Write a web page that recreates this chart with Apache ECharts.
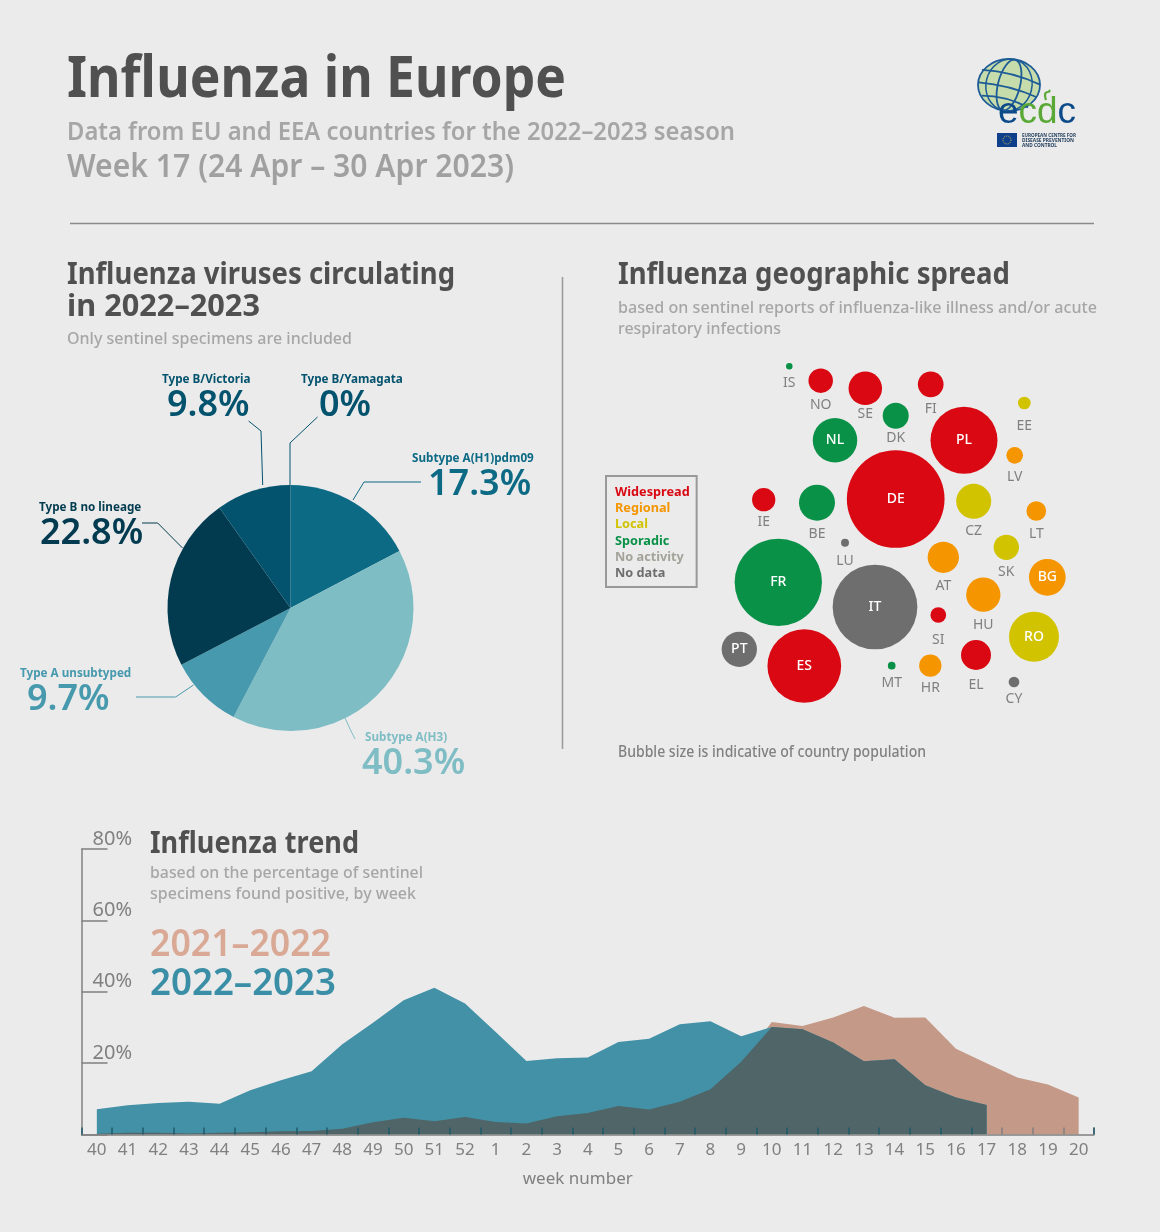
<!DOCTYPE html>
<html><head><meta charset="utf-8">
<style>html,body{margin:0;padding:0;background:#ebebeb}#c{width:1160px;height:1232px}</style>
<script src="https://cdn.jsdelivr.net/npm/echarts@6/dist/echarts.min.js"></script>
</head><body><div id="c"></div>
<script>
const FONT = '"Noto Sans"';
// --- Pie data
const virusNames = ['Subtype A(H1)pdm09','Subtype A(H3)','Type A unsubtyped','Type B no lineage','Type B/Victoria','Type B/Yamagata'];
const virusShares = [17.3,40.3,9.7,22.8,9.8,0];
const virusColors = ['#0d6a85','#7fbdc5','#4799ad','#023b50','#03536e','#03536e'];
// --- Trend data
const weekLabels = ['40','41','42','43','44','45','46','47','48','49','50','51','52','1','2','3','4','5','6','7','8','9','10','11','12','13','14','15','16','17','18','19','20'];
const season2122 = [0.2,0.5,0.5,0.3,0.5,0.6,0.9,1.0,1.6,3.4,4.7,3.7,4.9,3.5,3.1,5.1,6.0,8.0,7.0,9.2,12.7,20.4,31.5,30.4,32.8,36.0,32.7,32.8,24.0,20.0,16.0,14.0,10.4];
const season2223 = [7.1,8.2,8.8,9.2,8.6,12.4,15.2,17.7,25.3,31.3,37.6,41.1,36.7,28.7,20.6,21.4,21.6,25.9,26.8,30.9,31.7,27.5,30.1,29.5,25.8,20.5,21.1,13.8,10.4,8.3,null,null,null];
const overlapOutline = [0.2,0.5,0.5,0.3,0.5,0.6,0.9,1.0,1.6,3.4,4.7,3.7,4.9,3.5,3.1,5.1,6.0,8.0,7.0,9.2,12.7,20.4,30.1,29.5,25.8,20.5,21.1,13.8,10.4,8.3,null,null,null];
const yTicks = [0,20,40,60,80];
// --- Bubble data (layout coordinates of the packed bubble map)
const countryCodes = ['IS','NO','SE','FI','DK','EE','NL','PL','LV','DE','CZ','LT','IE','BE','SK','LU','AT','BG','FR','HU','IT','SI','RO','EL','PT','ES','MT','HR','CY'];
const bubbleX = [789.3,820.7,865.3,930.7,895.7,1024.3,835,964,1014.7,895.7,973.7,1036.3,763.7,817,1006.3,845,943.3,1047.3,778.3,983.3,875,938.3,1034,976,739.3,804.3,891.7,930.3,1014];
const bubbleY = [366.3,380.7,388.3,384.3,415.7,403,440.3,440.3,455.3,499,501.3,511,499.7,502.7,547.3,542.7,557.3,577.3,582.3,594.7,607,615,636.7,655,649.3,666,665.7,665.7,682];
const bubbleSizes = [6.5,24.5,33.5,25.7,26,12.7,44.5,67,16.7,97.7,35,19.7,23.3,36,25.3,8,31.3,36.7,87.3,34.3,84.7,15.7,50,30,35.3,73.7,7.7,22.3,10.7];
const countryStatus = ['Sporadic','Widespread','Widespread','Widespread','Sporadic','Local','Sporadic','Widespread','Regional','Widespread','Local','Regional','Widespread','Sporadic','Local','No data','Regional','Regional','Sporadic','Regional','No data','Widespread','Local','Widespread','No data','Widespread','Sporadic','Regional','No data'];
const insideLabelCodes = ['NL','PL','DE','BG','FR','IT','RO','PT','ES'];
const labelGaps = [6,5,2,5,2,10,0,0,6,0,5,6,4,6,5,7,6,0,0,6,0,10,0,8,0,0,6,4,5];
const statusNames = ['Widespread','Regional','Local','Sporadic','No activity','No data'];
const statusColors = ['#d90812','#f59500','#d1c300','#0a9148','#a3a39a','#6e6e6e'];

// --- Layout of the pie labels (left edge name, left edge value, name centre y, leader line)
const pieNameLeft = [412,365,20,39,162,301];
const pieValueLeft = [428,362,27,40,167,319];
const pieNameY = [459,738,674,508,380,380];
const pieLeaders = [
  [[353,500],[364,482],[421,482]],
  [[345,718],[350,729],[355,739]],
  [[193.5,685],[175.6,697],[136,697]],
  [[182.5,548],[157.7,523],[142,523]],
  [[262.7,485],[261,431],[248.6,421]],
  [[290,485],[290,443],[317.5,417]]
];

// --- Text blocks
const ctx = document.createElement('canvas').getContext('2d');
function T(text, x, y, w, size, weight, color){
  ctx.font = weight + ' ' + size + 'px ' + FONT;
  const m = ctx.measureText(text).width;
  return {type:'text', x:x, y:y, scaleX:w/m, z:50, silent:true,
    style:{text:text, fontFamily:FONT, fontSize:size, fontWeight:weight, fill:color, textAlign:'left', textVerticalAlign:'middle', verticalAlign:'middle'}};
}
const DARK='#505050', LIGHT='#a6a6a6';
const texts = [
  T('Influenza in Europe',67,81,499,57,700,DARK),
  T('Data from EU and EEA countries for the 2022–2023 season',67,133,668,25,600,LIGHT),
  T('Week 17 (24 Apr – 30 Apr 2023)',67,168,447,32,600,'#a0a0a0'),
  T('Influenza viruses circulating',67,275.5,388,31,700,DARK),
  T('in 2022–2023',67,307.5,193,31,700,DARK),
  T('Only sentinel specimens are included',67,339,285,17,500,LIGHT),
  T('Influenza geographic spread',618,275.5,392,31,700,DARK),
  T('based on sentinel reports of influenza-like illness and/or acute',618,308,479,17,500,LIGHT),
  T('respiratory infections',618,329,163,17,500,LIGHT),
  T('Bubble size is indicative of country population',618,752.5,308,15.5,500,'#808080'),
  T('Influenza trend',150,844.5,209,31,700,DARK),
  T('based on the percentage of sentinel',150,873,273,17,500,LIGHT),
  T('specimens found positive, by week',150,894,266,17,500,LIGHT),
  T('2021–2022',150,945,181,37,600,'#d9a995'),
  T('2022–2023',150,984,186,37,600,'#3a8ea5')
];
function L(x1,y1,x2,y2,c,w){return {type:'line',z:40,silent:true,shape:{x1,y1,x2,y2},style:{stroke:c,lineWidth:w}};}
const rules = [L(70,223.5,1094,223.5,'#8a8a8a',1.5), L(562.5,277,562.5,749,'#999999',1.5)];
// logo
const B='#1d5c96';
function E(cx,cy,rx,ry,rot,st){return {type:'ellipse',z:45,silent:true,x:1009,y:85,rotation:rot,shape:{cx:cx,cy:cy,rx:rx,ry:ry},style:st};}
function Q(x1,y1,cx,cy,x2,y2){return {type:'bezierCurve',z:46,silent:true,x:1009,y:85,rotation:-0.25,shape:{x1,y1,x2,y2,cpx1:cx,cpy1:cy},style:{stroke:B,lineWidth:1.8,fill:null}};}
const logo = [
  E(0,0,31,26,0,{fill:'#c7dcab',stroke:null}),
  E(0,0,31,26,0,{fill:null,stroke:B,lineWidth:1.8}),
  E(0,0,11,26,-0.25,{fill:null,stroke:B,lineWidth:1.8}),
  E(0,0,23,26,-0.25,{fill:null,stroke:B,lineWidth:1.5}),
  Q(-30,-8,0,-14,30,-8), Q(-30,5,0,0,30,5), Q(-24,17,0,11,24,17),
  {type:'text',z:47,silent:true,x:1037,y:113,style:{text:'{a|e}{b|cd}{a|c}',fontFamily:'"Liberation Sans"',fontSize:37,textAlign:'center',verticalAlign:'middle',rich:{a:{fill:'#0d4a8a',fontSize:37,fontFamily:'"Liberation Sans"'},b:{fill:'#5aa836',fontSize:37,fontFamily:'"Liberation Sans"'}}}},
  {type:'bezierCurve',z:47,silent:true,shape:{x1:1046,y1:100,x2:1049,y2:90,cpx1:1042,cpy1:88,cpx2:1052,cpy2:94},style:{stroke:'#5aa836',lineWidth:2.2,fill:null}},
  {type:'rect',z:47,silent:true,shape:{x:997,y:133,width:20,height:14},style:{fill:'#0d3f8a'}},
  {type:'circle',z:48,silent:true,shape:{cx:1007,cy:140,r:4},style:{fill:null,stroke:'#e8d34a',lineWidth:1,lineDash:[1,1.2]}},
  T('EUROPEAN CENTRE FOR',1022,135,54,6,700,'#25415f'),
  T('DISEASE PREVENTION',1022,140,52,6,700,'#25415f'),
  T('AND CONTROL',1022,145,35,6,700,'#25415f')
];

// --- Series
const pieData = virusNames.map((n,i)=>({
  name:n, value:virusShares[i],
  itemStyle:{color:virusColors[i]},
  labelLine:{lineStyle:{color:virusColors[i],width:1}},
  label:{
    formatter:'{n|'+n+'}\n{v|'+virusShares[i]+'%}',
    rich:{
      n:{fontFamily:FONT,fontSize:11.7,fontWeight:700,color:virusColors[i],lineHeight:16,align:'left',padding:[0,0,0,pieNameLeft[i]-Math.min(pieNameLeft[i],pieValueLeft[i])]},
      v:{fontFamily:FONT,fontSize:36,fontWeight:600,color:virusColors[i],lineHeight:36,align:'left',padding:[0,0,0,pieValueLeft[i]-Math.min(pieNameLeft[i],pieValueLeft[i])]}
    }
  }
}));
const bubbleSeries = statusNames.map((st,si)=>{
  const data=[];
  countryCodes.forEach((c,i)=>{
    if(countryStatus[i]!==st) return;
    const inside = insideLabelCodes.includes(c);
    data.push({name:c,value:[bubbleX[i],bubbleY[i]],symbolSize:bubbleSizes[i],
      label:{show:true,formatter:c,position:inside?'inside':'bottom',distance:labelGaps[i],
        color:inside?'#ffffff':'#808080',fontFamily:FONT,fontSize:14,fontWeight:inside?500:400}});
  });
  return {type:'scatter',name:st,xAxisIndex:2,yAxisIndex:1,data:data,itemStyle:{color:statusColors[si],opacity:1},silent:true,animation:false};
});
const area = (name,data,color,z)=>({type:'line',name,xAxisIndex:0,yAxisIndex:0,data,symbol:'none',showSymbol:false,
  lineStyle:{width:0},areaStyle:{color,opacity:1},z,silent:true,connectNulls:false,animation:false});

const option = {
  backgroundColor:'#ebebeb', animation:false, textStyle:{fontFamily:FONT},
  grid:[
    {left:81.5,right:66,top:849,bottom:97.5,containLabel:false},
    {left:600,top:350,width:480,height:370}
  ],
  xAxis:[
    {type:'category',gridIndex:0,data:weekLabels,boundaryGap:true,z:6,
      axisLine:{show:true,lineStyle:{color:'#808080',width:1.5}},
      axisTick:{show:true,inside:true,length:7,interval:(i)=>i>29,lineStyle:{color:'#808080',width:1.5}},
      axisLabel:{show:true,interval:0,margin:7,fontFamily:FONT,fontSize:17,color:'#808080'},
      splitLine:{show:false},
      name:'week number',nameLocation:'middle',nameGap:36,
      nameTextStyle:{fontFamily:FONT,fontSize:17,color:'#808080',padding:[0,20,0,0]}},
    {type:'category',gridIndex:0,position:'bottom',data:weekLabels,boundaryGap:true,z:6,
      axisLine:{show:false},axisLabel:{show:false},splitLine:{show:false},
      axisTick:{show:true,inside:true,length:7,interval:(i)=>i<=29,lineStyle:{color:'#1f5a6a',width:1.5}}},
    {type:'value',gridIndex:1,min:600,max:1080,show:false}
  ],
  yAxis:[
    {type:'value',gridIndex:0,min:yTicks[0],max:yTicks[yTicks.length-1],interval:20,z:6,
      axisLine:{show:true,lineStyle:{color:'#808080',width:1.5}},
      axisTick:{show:true,inside:true,length:26,lineStyle:{color:'#808080',width:1.5}},
      splitLine:{show:false},
      axisLabel:{inside:true,margin:11,fontFamily:FONT,fontSize:20,color:'#808080',verticalAlign:'bottom',
        formatter:(v)=>v?v+'%':''}},
    {type:'value',gridIndex:1,min:350,max:720,inverse:true,show:false}
  ],
  legend:{
    data:statusNames.map((n,i)=>({name:n,icon:'none',textStyle:{color:statusColors[i],fontFamily:FONT,fontSize:12.7,fontWeight:700}})),
    orient:'vertical',left:606,top:476,itemWidth:0,itemHeight:14,itemGap:2.8,padding:[9,7,7,4],
    borderColor:'#999999',borderWidth:2,selectedMode:false,backgroundColor:'transparent'
  },
  series:[
    {type:'pie',name:'viruses',center:[290.5,608],radius:123,startAngle:90,clockwise:true,sort:null,
      avoidLabelOverlap:false,stillShowZeroSum:true,silent:true,animation:false,data:pieData,
      label:{show:true,position:'outside'},labelLine:{show:true},
      labelLayout:(p)=>{const i=p.dataIndex;return {x:Math.min(pieNameLeft[i],pieValueLeft[i]),y:pieNameY[i]-8,align:'left',verticalAlign:'top',labelLinePoints:pieLeaders[i]};}},
    area('2021–2022',season2122,'#c49987',2),
    area('2022–2023',season2223,'#4391a6',3),
    area('overlap',overlapOutline,'#4f6567',4),
    ...bubbleSeries
  ],
  graphic:{elements:[...rules,...logo,...texts]}
};
const chart = echarts.init(document.getElementById('c'),null,{renderer:'canvas',width:1160,height:1232});
chart.setOption(option);
</script></body></html>
